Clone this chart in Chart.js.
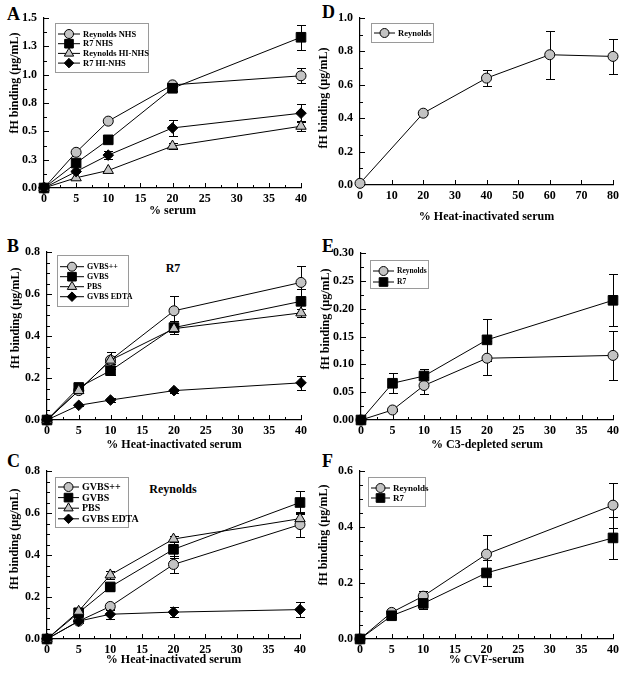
<!DOCTYPE html>
<html>
<head>
<meta charset="utf-8">
<script src="https://cdn.jsdelivr.net/npm/chart.js@4.4.0/dist/chart.umd.min.js"></script>
<style>
  body { margin: 0; background: #fff; }
  #wrap { position: relative; width: 624px; height: 673px; overflow: hidden; background: #fff; }
  #wrap canvas { position: absolute; }
  .lbl { position: absolute; font-family: 'Liberation Serif', 'Times New Roman', serif; font-weight: bold; line-height: 1; color: #000; white-space: nowrap; }
</style>
</head>
<body>
<div id="wrap">
  <div class="lbl" style="left:7px;top:5px;font-size:18px">A</div>
  <div class="lbl" style="left:322px;top:3px;font-size:18px">D</div>
  <div class="lbl" style="left:7px;top:237px;font-size:18px">B</div>
  <div class="lbl" style="left:322px;top:237px;font-size:18px">E</div>
  <div class="lbl" style="left:7px;top:452px;font-size:18px">C</div>
  <div class="lbl" style="left:322px;top:452px;font-size:18px">F</div>
  <div class="lbl" style="left:133px;top:262px;width:80px;text-align:center;font-size:12px">R7</div>
  <div class="lbl" style="left:123px;top:483px;width:100px;text-align:center;font-size:12px">Reynolds</div>
</div>
<script>
const SERIF = "'Liberation Serif', 'Times New Roman', serif";

// x values (% serum)
const serumPct = [0, 5, 10, 20, 40];
const hiSerumPctD = [0, 20, 40, 60, 80];

// tick labels
const xTicks40 = ['0', '5', '10', '15', '20', '25', '30', '35', '40'];
const xTicks80 = ['0', '10', '20', '30', '40', '50', '60', '70', '80'];
const yTicksA = ['0.0', '0.3', '0.5', '0.8', '1.0', '1.3', '1.5'];
const yTicksD = ['0.0', '0.2', '0.4', '0.6', '0.8', '1.0'];
const yTicksBC = ['0.0', '0.2', '0.4', '0.6', '0.8'];
const yTicksE = ['0.00', '0.05', '0.10', '0.15', '0.20', '0.25', '0.30'];
const yTicksF = ['0.0', '0.2', '0.4', '0.6'];

// A: % serum
const aReynoldsNHS = [0, 0.315, 0.59, 0.91, 0.99];
const aReynoldsNHSErr = [0, 0.01, 0.015, 0.02, 0.065];
const aR7NHS = [0, 0.22, 0.425, 0.88, 1.33];
const aR7NHSErr = [0, 0, 0, 0.02, 0.11];
const aReynoldsHI = [0, 0.09, 0.155, 0.37, 0.545];
const aReynoldsHIErr = [0, 0, 0, 0.03, 0.045];
const aR7HI = [0, 0.145, 0.29, 0.53, 0.66];
const aR7HIErr = [0, 0, 0.035, 0.07, 0.08];

// D: % heat-inactivated serum (Reynolds)
const dReynolds = [0.01, 0.43, 0.64, 0.78, 0.77];
const dReynoldsErr = [0, 0.01, 0.05, 0.145, 0.103];

// B: R7, % heat-inactivated serum
const bGVBSpp = [0, 0.14, 0.285, 0.52, 0.655];
const bGVBSppErr = [0, 0.01, 0.04, 0.07, 0.08];
const bGVBS = [0, 0.155, 0.235, 0.44, 0.565];
const bGVBSErr = [0, 0.01, 0.02, 0.03, 0.058];
const bPBS = [0, 0.14, 0.285, 0.435, 0.51];
const bPBSErr = [0, 0.01, 0.02, 0.01, 0.02];
const bEDTA = [0, 0.07, 0.095, 0.14, 0.177];
const bEDTAErr = [0, 0.005, 0.01, 0.01, 0.032];

// C: Reynolds, % heat-inactivated serum
const cGVBSpp = [0, 0.085, 0.155, 0.355, 0.545];
const cGVBSppErr = [0, 0.01, 0.015, 0.04, 0.06];
const cGVBS = [0, 0.125, 0.248, 0.427, 0.65];
const cGVBSErr = [0, 0.01, 0.02, 0.04, 0.055];
const cPBS = [0, 0.132, 0.305, 0.476, 0.573];
const cPBSErr = [0, 0.01, 0.02, 0.015, 0.025];
const cEDTA = [0, 0.085, 0.118, 0.128, 0.14];
const cEDTAErr = [0, 0.01, 0.025, 0.025, 0.035];

// E: % C3-depleted serum
const eReynolds = [0, 0.018, 0.062, 0.111, 0.116];
const eReynoldsErr = [0, 0.002, 0.015, 0.031, 0.044];
const eR7 = [0, 0.066, 0.079, 0.144, 0.215];
const eR7Err = [0, 0.018, 0.012, 0.038, 0.047];

// F: % CVF-serum
const fReynolds = [0, 0.095, 0.153, 0.303, 0.478];
const fReynoldsErr = [0, 0.005, 0.02, 0.07, 0.08];
const fR7 = [0, 0.083, 0.127, 0.236, 0.361];
const fR7Err = [0, 0.005, 0.02, 0.045, 0.076];

const Y_TITLE = 'fH binding (µg/mL)';

const MARKERS = {
  circle:   { pointStyle: 'circle',   radius: 5,   fill: '#c3c3c3' },
  square:   { pointStyle: 'rect',     radius: 6.8, fill: '#000' },
  triangle: { pointStyle: 'triangle', radius: 6,   fill: '#c3c3c3' },
  diamond:  { pointStyle: 'rectRot',  radius: 5.3, fill: '#000' }
};

function series(label, xs, ys, errs, marker) {
  const m = MARKERS[marker];
  return {
    label,
    data: ys.map((y, i) => ({ x: xs[i], y })),
    errors: errs,
    marker,
    borderColor: '#000',
    borderWidth: 1,
    pointStyle: m.pointStyle,
    pointRadius: m.radius,
    pointHoverRadius: m.radius,
    pointBackgroundColor: m.fill,
    pointBorderColor: '#000',
    pointBorderWidth: 1,
    tension: 0,
    fill: false,
    clip: false
  };
}

// vertical error bars with caps, under the markers
const errorBars = {
  id: 'errorBars',
  beforeDatasetsDraw(chart) {
    const ctx = chart.ctx, ys = chart.scales.y;
    ctx.save();
    ctx.strokeStyle = '#000';
    ctx.lineWidth = 1;
    chart.data.datasets.forEach((ds, di) => {
      const meta = chart.getDatasetMeta(di);
      (ds.errors || []).forEach((e, i) => {
        if (!e) return;
        const v = ds.data[i].y;
        const px = Math.round(meta.data[i].x) + 0.5;
        const top = Math.round(ys.getPixelForValue(v + e)) + 0.5;
        const bot = Math.round(ys.getPixelForValue(v - e)) + 0.5;
        ctx.beginPath();
        ctx.moveTo(px, top); ctx.lineTo(px, bot);
        ctx.moveTo(px - 4.5, top); ctx.lineTo(px + 4.5, top);
        ctx.moveTo(px - 4.5, bot); ctx.lineTo(px + 4.5, bot);
        ctx.stroke();
      });
    });
    ctx.restore();
  }
};

// tick marks pointing into the plot, with minor ticks between
const innerTicks = {
  id: 'innerTicks',
  beforeDatasetsDraw(chart, args, opts) {
    const { ctx, chartArea: a, scales } = chart;
    ctx.save();
    ctx.strokeStyle = '#000';
    ctx.lineWidth = 1;
    ctx.beginPath();
    const mark = (scale, minor) => {
      const vals = scale.ticks.map(t => t.value);
      const put = (v, len) => {
        const p = Math.round(scale.getPixelForValue(v)) + 0.5;
        if (scale.isHorizontal()) { ctx.moveTo(p, a.bottom); ctx.lineTo(p, a.bottom - len); }
        else { ctx.moveTo(a.left, p); ctx.lineTo(a.left + len, p); }
      };
      vals.forEach((v, i) => {
        put(v, 5);
        if (i < vals.length - 1) {
          for (let k = 1; k <= minor; k++) put(v + (vals[i + 1] - v) * k / (minor + 1), 3);
        }
      });
    };
    mark(scales.x, opts.xMinor || 0);
    mark(scales.y, opts.yMinor || 0);
    ctx.stroke();
    ctx.restore();
  }
};

// rotated y title, placed a little above the axis middle like the figure
const sideTitle = {
  id: 'sideTitle',
  afterDraw(chart, args, o) {
    const ctx = chart.ctx;
    ctx.save();
    ctx.translate(o.x, o.y);
    ctx.rotate(-Math.PI / 2);
    ctx.font = 'bold 12px ' + SERIF;
    ctx.fillStyle = '#000';
    ctx.textAlign = 'center';
    ctx.textBaseline = 'middle';
    ctx.fillText(o.text, 0, 0);
    ctx.restore();
  }
};

function drawMarker(ctx, style, x, y, r, fill) {
  ctx.beginPath();
  if (style === 'circle') {
    ctx.arc(x, y, r, 0, Math.PI * 2);
  } else if (style === 'rect') {
    const s = Math.SQRT1_2 * r;
    ctx.rect(x - s, y - s, 2 * s, 2 * s);
  } else if (style === 'triangle') {
    ctx.moveTo(x, y - r);
    ctx.lineTo(x + r * Math.sin(Math.PI * 2 / 3), y - r * Math.cos(Math.PI * 2 / 3));
    ctx.lineTo(x - r * Math.sin(Math.PI * 2 / 3), y - r * Math.cos(Math.PI * 2 / 3));
    ctx.closePath();
  } else {
    ctx.moveTo(x, y - r); ctx.lineTo(x + r, y); ctx.lineTo(x, y + r); ctx.lineTo(x - r, y);
    ctx.closePath();
  }
  ctx.fillStyle = fill;
  ctx.fill();
  ctx.stroke();
}

// boxed legend inside the plot
const boxLegend = {
  id: 'boxLegend',
  afterDraw(chart, args, o) {
    const ctx = chart.ctx;
    ctx.save();
    ctx.strokeStyle = '#9a9a9a';
    ctx.lineWidth = 1;
    ctx.strokeRect(o.x + 0.5, o.y + 0.5, o.w, o.h);
    ctx.font = 'bold ' + o.font + 'px ' + SERIF;
    ctx.textBaseline = 'middle';
    ctx.fillStyle = '#000';
    chart.data.datasets.forEach((ds, i) => {
      const yy = o.row0 + i * o.step;
      const x0 = o.x + 3, x1 = o.x + o.text - 3, xm = (x0 + x1) / 2;
      ctx.strokeStyle = '#000';
      ctx.beginPath(); ctx.moveTo(x0, yy); ctx.lineTo(x1, yy); ctx.stroke();
      const m = MARKERS[ds.marker];
      drawMarker(ctx, m.pointStyle, xm, yy, m.radius * 0.9, m.fill);
      ctx.fillStyle = '#000';
      ctx.fillText(ds.label, o.x + o.text, yy + 0.5);
    });
    ctx.restore();
  }
};

const panels = [
  { left: 0, top: 0, w: 312, h: 228, area: [44, 18, 301, 188], xPad: 10, yTitleAt: [15, 83],
    xTitle: '% serum', xMax: 40, xStep: 5, xLabels: xTicks40, xMinor: 1,
    yMax: 1.5, yStep: 0.25, yLabels: yTicksA, yMinor: 1,
    datasets: [
      series('Reynolds NHS', serumPct, aReynoldsNHS, aReynoldsNHSErr, 'circle'),
      series('R7 NHS', serumPct, aR7NHS, aR7NHSErr, 'square'),
      series('Reynolds HI-NHS', serumPct, aReynoldsHI, aReynoldsHIErr, 'triangle'),
      series('R7 HI-NHS', serumPct, aR7HI, aR7HIErr, 'diamond')
    ],
    legend: { x: 55, y: 23, w: 93, h: 49, row0: 34, step: 9.7, text: 28, font: 8.5 } },
  { left: 312, top: 0, w: 312, h: 228, area: [48, 18, 301, 185], xPad: 4, yTitleAt: [12, 98],
    xTitle: '% Heat-inactivated serum', xMax: 80, xStep: 10, xLabels: xTicks80, xMinor: 0,
    yMax: 1.0, yStep: 0.2, yLabels: yTicksD, yMinor: 1,
    datasets: [series('Reynolds', hiSerumPctD, dReynolds, dReynoldsErr, 'circle')],
    legend: { x: 59, y: 23, w: 62, h: 19, row0: 33, step: 10, text: 27, font: 8.5 } },
  { left: 0, top: 224, w: 312, h: 230, area: [47, 28, 301, 196], xPad: 2, yTitleAt: [16, 94],
    xTitle: '% Heat-inactivated serum', xMax: 40, xStep: 5, xLabels: xTicks40, xMinor: 1,
    yMax: 0.8, yStep: 0.2, yLabels: yTicksBC, yMinor: 3,
    datasets: [
      series('GVBS++', serumPct, bGVBSpp, bGVBSppErr, 'circle'),
      series('GVBS', serumPct, bGVBS, bGVBSErr, 'square'),
      series('PBS', serumPct, bPBS, bPBSErr, 'triangle'),
      series('GVBS EDTA', serumPct, bEDTA, bEDTAErr, 'diamond')
    ],
    legend: { x: 57, y: 31, w: 71, h: 51, row0: 42.7, step: 10, text: 30, font: 8 } },
  { left: 312, top: 224, w: 312, h: 230, area: [49, 29, 301, 196], xPad: 2, yTitleAt: [14, 95],
    xTitle: '% C3-depleted serum', xMax: 40, xStep: 5, xLabels: xTicks40, xMinor: 1,
    yMax: 0.3, yStep: 0.05, yLabels: yTicksE, yMinor: 1,
    datasets: [
      series('Reynolds', serumPct, eReynolds, eReynoldsErr, 'circle'),
      series('R7', serumPct, eR7, eR7Err, 'square')
    ],
    legend: { x: 58, y: 36, w: 58, h: 28, row0: 47, step: 11, text: 27, font: 7.5 } },
  { left: 0, top: 446, w: 312, h: 227, area: [47, 25, 300, 193], xPad: 6, yTitleAt: [15, 93],
    xTitle: '% Heat-inactivated serum', xMax: 40, xStep: 5, xLabels: xTicks40, xMinor: 1,
    yMax: 0.8, yStep: 0.2, yLabels: yTicksBC, yMinor: 3,
    datasets: [
      series('GVBS++', serumPct, cGVBSpp, cGVBSppErr, 'circle'),
      series('GVBS', serumPct, cGVBS, cGVBSErr, 'square'),
      series('PBS', serumPct, cPBS, cPBSErr, 'triangle'),
      series('GVBS EDTA', serumPct, cEDTA, cEDTAErr, 'diamond')
    ],
    legend: { x: 55, y: 31, w: 73, h: 50, row0: 41, step: 10.6, text: 27, font: 10 } },
  { left: 312, top: 446, w: 312, h: 227, area: [48, 25, 301, 193], xPad: 6, yTitleAt: [12, 89],
    xTitle: '% CVF-serum', xMax: 40, xStep: 5, xLabels: xTicks40, xMinor: 1,
    yMax: 0.6, yStep: 0.2, yLabels: yTicksF, yMinor: 3,
    datasets: [
      series('Reynolds', serumPct, fReynolds, fReynoldsErr, 'circle'),
      series('R7', serumPct, fR7, fR7Err, 'square')
    ],
    legend: { x: 56, y: 31, w: 57, h: 29, row0: 42, step: 10, text: 25, font: 9 } }
];

const wrap = document.getElementById('wrap');

panels.forEach(p => {
  const cv = document.createElement('canvas');
  cv.width = p.w; cv.height = p.h;
  cv.style.left = p.left + 'px'; cv.style.top = p.top + 'px';
  wrap.appendChild(cv);
  const [L, T, R, B] = p.area;
  p.datasets.forEach((d, i) => { d.order = -i; });

  new Chart(cv.getContext('2d'), {
    type: 'line',
    data: { datasets: p.datasets },
    plugins: [innerTicks, errorBars, boxLegend, sideTitle],
    options: {
      responsive: false,
      animation: false,
      events: [],
      layout: { padding: { left: 0, top: T, right: p.w - R, bottom: 0 } },
      plugins: {
        legend: { display: false },
        tooltip: { enabled: false },
        innerTicks: { xMinor: p.xMinor, yMinor: p.yMinor },
        boxLegend: p.legend,
        sideTitle: { text: Y_TITLE, x: p.yTitleAt[0], y: p.yTitleAt[1] }
      },
      scales: {
        x: {
          type: 'linear', min: 0, max: p.xMax,
          afterFit: s => { s.height = p.h - B; },
          grid: { display: false, drawTicks: false },
          border: { display: true, color: '#000', width: 1.2 },
          ticks: {
            stepSize: p.xStep, autoSkip: false, maxRotation: 0, padding: 4, color: '#000',
            font: { family: SERIF, size: 12, weight: 'bold' },
            callback: (v, i) => p.xLabels[i]
          },
          title: {
            display: true, text: p.xTitle, color: '#000',
            font: { family: SERIF, size: 12, weight: 'bold' },
            padding: { top: 0, bottom: p.xPad }
          }
        },
        y: {
          type: 'linear', min: 0, max: p.yMax,
          afterFit: s => { s.width = L; },
          grid: { display: false, drawTicks: false },
          border: { display: true, color: '#000', width: 1.2 },
          ticks: {
            stepSize: p.yStep, autoSkip: false, padding: 7, color: '#000',
            font: { family: SERIF, size: 12, weight: 'bold' },
            callback: (v, i) => p.yLabels[i]
          },
          title: { display: false }
        }
      }
    }
  });
});
</script>
</body>
</html>
